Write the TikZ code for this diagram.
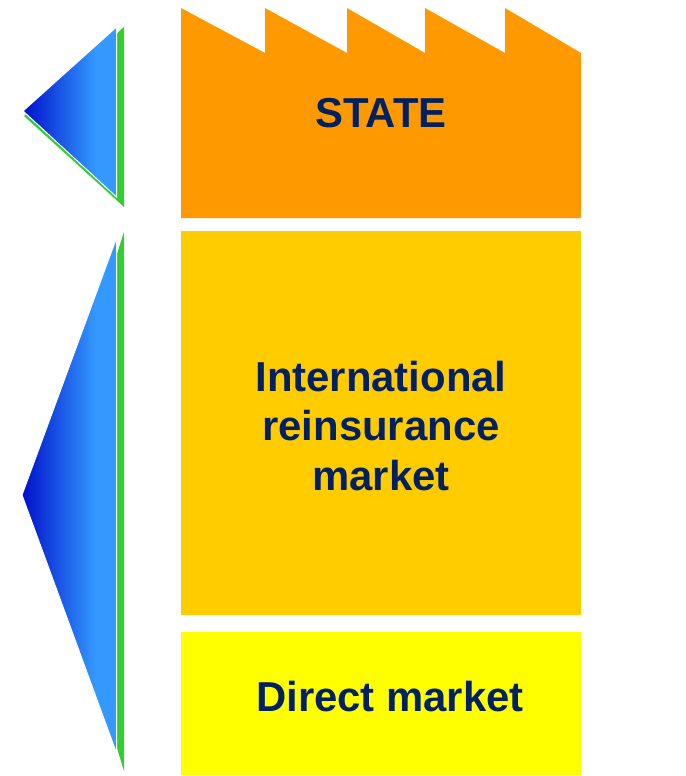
\documentclass[tikz,border=0pt]{standalone}
\usepackage{fontspec}
\setmainfont{Liberation Sans}
\definecolor{dblue}{RGB}{0,16,204}
\definecolor{lblue}{RGB}{51,153,255}
\definecolor{bargreen}{RGB}{51,204,51}
\definecolor{stateorange}{RGB}{255,153,0}
\definecolor{reinsgold}{RGB}{255,204,0}
\definecolor{directyellow}{RGB}{255,255,0}
\definecolor{navytext}{RGB}{0,32,96}
\pgfdeclarehorizontalshading{bluefade}{100bp}{color(0bp)=(dblue); color(25bp)=(dblue); color(64bp)=(lblue); color(100bp)=(lblue)}
\tikzset{
  boxlabel/.style={text=navytext, font=\bfseries\fontsize{42}{50}\selectfont, align=center, inner sep=0pt},
  bluetri/.style={shading=bluefade, draw=white, line width=1bp},
  greentri/.style={fill=bargreen, draw=none}
}
\begin{document}
\begin{tikzpicture}[x=1bp,y=-1bp]
\useasboundingbox (0,0) rectangle (686,776);
% top arrow
\fill[greentri] (24,116) -- (124,27) -- (124,207) -- cycle;
\path[bluetri] (23,111) -- (116.5,27) -- (116.5,197) -- cycle;
% bottom arrow
\fill[greentri] (40,495) -- (124,232) -- (124,771) -- cycle;
\path[bluetri] (22,495) -- (116.5,238) -- (116.5,753) -- cycle;
% factory (state)
\fill[stateorange] (181,8) -- (265,53) -- (265,8) -- (347,53) -- (347,8) -- (425,53) -- (425,8) -- (505,53) -- (505,8) -- (581,53) -- (581,218) -- (181,218) -- cycle;
\node[boxlabel] (state) at (381,113) {STATE};
% reinsurance box
\fill[reinsgold] (181,231) rectangle (581,615);
\node[boxlabel] (reins) at (381,426) {International\\reinsurance\\market};
% direct market box
\fill[directyellow] (181,632) rectangle (581,775);
\node[boxlabel] (direct) at (390,697) {Direct market};
\end{tikzpicture}
\end{document}
